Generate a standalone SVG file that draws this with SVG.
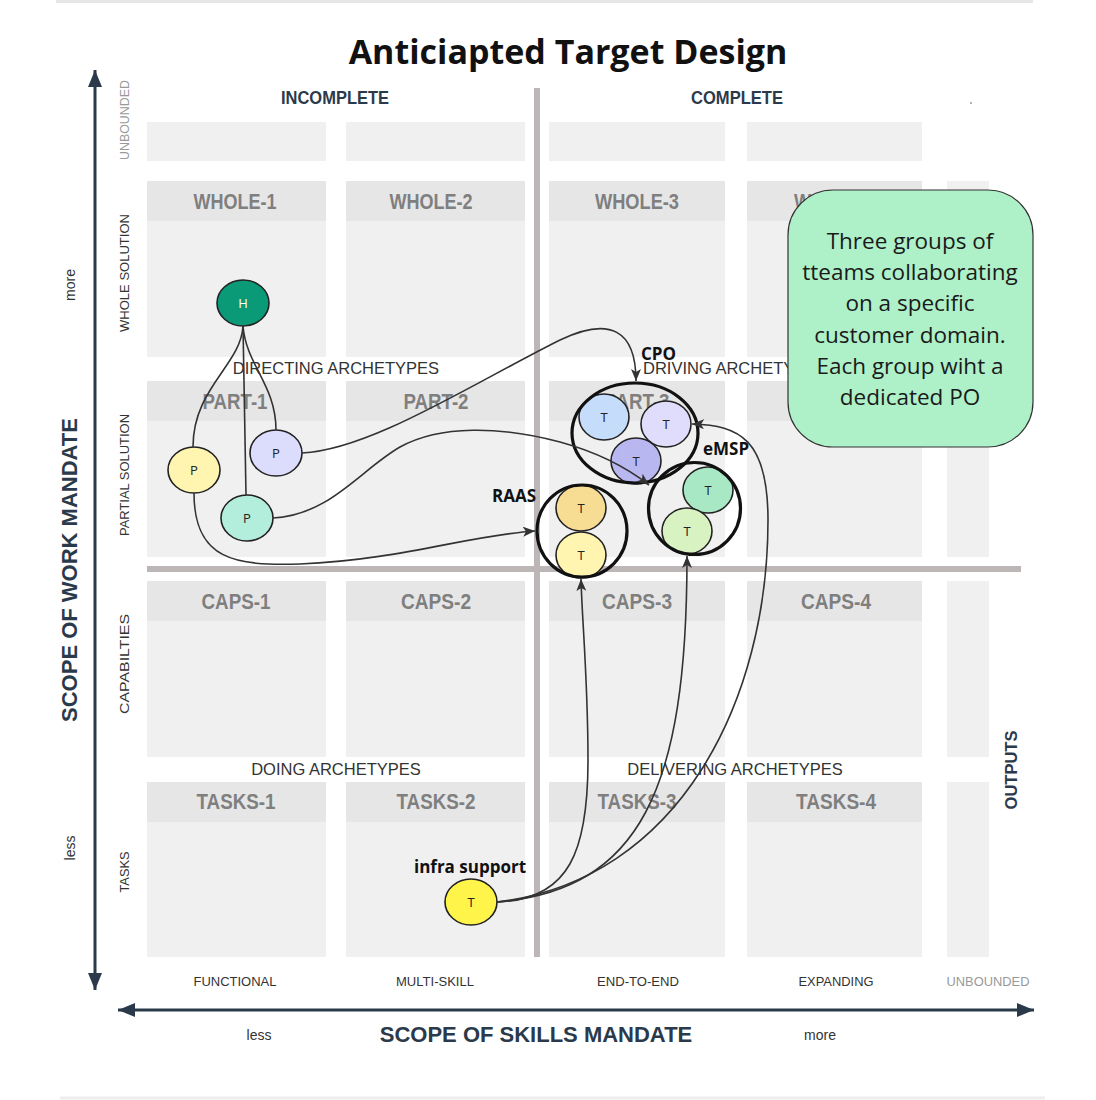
<svg xmlns="http://www.w3.org/2000/svg" width="1096" height="1100" viewBox="0 0 1096 1100">
<style>
.hdr{fill:#e6e6e6}
.bdy{fill:#f0f0f0}
.cl{font-family:"Liberation Sans",Arial,sans-serif;font-weight:700;font-size:22px;fill:#7f7f7f;text-anchor:middle}
.ax{font-family:"Liberation Sans",Arial,sans-serif;font-weight:700;fill:#2b3a4a;text-anchor:middle}
.rl{font-family:"Liberation Sans",Arial,sans-serif;font-size:12.5px;fill:#333;text-anchor:middle}
.arch{font-family:"Liberation Sans",Arial,sans-serif;font-size:16.5px;fill:#333;text-anchor:middle}
.sm{font-family:"Liberation Sans",Arial,sans-serif;font-size:14px;fill:#333;text-anchor:middle}
.conn{fill:none;stroke:#333;stroke-width:1.6}
.nd{stroke:#222;stroke-width:1.6}
.grp{fill:none;stroke:#111;stroke-width:3.2}
.nt{font-family:"Open Sans","Liberation Sans",sans-serif;font-size:13px;fill:#222;text-anchor:middle}
.gl{font-family:"Open Sans","Liberation Sans",sans-serif;font-weight:700;font-size:17px;fill:#111}
.bar{fill:#bdb6b6}
</style>
<defs>
<marker id="arr" markerUnits="userSpaceOnUse" markerWidth="14" markerHeight="12" refX="12" refY="5" orient="auto">
<path d="M0,0 L12,5 L0,10 L3,5 z" fill="#333"/>
</marker>
<marker id="axA" markerUnits="userSpaceOnUse" markerWidth="20" markerHeight="16" refX="17" refY="7" orient="auto-start-reverse">
<path d="M0,0 L17,7 L0,14 z" fill="#2b3a4a"/>
</marker>
</defs>

<rect width="1096" height="1100" fill="#fff"/>
<line x1="56" y1="1.5" x2="1033" y2="1.5" stroke="#e6e6e6" stroke-width="3"/>
<line x1="60" y1="1098" x2="1045" y2="1098" stroke="#eeeeee" stroke-width="3"/>

<g id="grid">
<rect class="bdy" x="147" y="122" width="179" height="39"/>
<rect class="bdy" x="346" y="122" width="179" height="39"/>
<rect class="bdy" x="549" y="122" width="176" height="39"/>
<rect class="bdy" x="747" y="122" width="175" height="39"/>

<rect class="hdr" x="147" y="181" width="179" height="40"/><rect class="bdy" x="147" y="221" width="179" height="136"/>
<rect class="hdr" x="346" y="181" width="179" height="40"/><rect class="bdy" x="346" y="221" width="179" height="136"/>
<rect class="hdr" x="549" y="181" width="176" height="40"/><rect class="bdy" x="549" y="221" width="176" height="136"/>
<rect class="hdr" x="747" y="181" width="175" height="40"/><rect class="bdy" x="747" y="221" width="175" height="136"/>
<rect class="bdy" x="947" y="181" width="42" height="176"/>

<rect class="hdr" x="147" y="381" width="179" height="40"/><rect class="bdy" x="147" y="421" width="179" height="136"/>
<rect class="hdr" x="346" y="381" width="179" height="40"/><rect class="bdy" x="346" y="421" width="179" height="136"/>
<rect class="hdr" x="549" y="381" width="176" height="40"/><rect class="bdy" x="549" y="421" width="176" height="136"/>
<rect class="hdr" x="747" y="381" width="175" height="40"/><rect class="bdy" x="747" y="421" width="175" height="136"/>
<rect class="bdy" x="947" y="381" width="42" height="176"/>

<rect class="hdr" x="147" y="581" width="179" height="40"/><rect class="bdy" x="147" y="621" width="179" height="136"/>
<rect class="hdr" x="346" y="581" width="179" height="40"/><rect class="bdy" x="346" y="621" width="179" height="136"/>
<rect class="hdr" x="549" y="581" width="176" height="40"/><rect class="bdy" x="549" y="621" width="176" height="136"/>
<rect class="hdr" x="747" y="581" width="175" height="40"/><rect class="bdy" x="747" y="621" width="175" height="136"/>
<rect class="bdy" x="947" y="581" width="42" height="176"/>

<rect class="hdr" x="147" y="782" width="179" height="40"/><rect class="bdy" x="147" y="822" width="179" height="135"/>
<rect class="hdr" x="346" y="782" width="179" height="40"/><rect class="bdy" x="346" y="822" width="179" height="135"/>
<rect class="hdr" x="549" y="782" width="176" height="40"/><rect class="bdy" x="549" y="822" width="176" height="135"/>
<rect class="hdr" x="747" y="782" width="175" height="40"/><rect class="bdy" x="747" y="822" width="175" height="135"/>
<rect class="bdy" x="947" y="782" width="42" height="175"/>

<text class="cl" x="235" y="209" textLength="83" lengthAdjust="spacingAndGlyphs">WHOLE-1</text>
<text class="cl" x="431" y="209" textLength="83" lengthAdjust="spacingAndGlyphs">WHOLE-2</text>
<text class="cl" x="637" y="209" textLength="84" lengthAdjust="spacingAndGlyphs">WHOLE-3</text>
<text class="cl" x="836" y="209" textLength="84" lengthAdjust="spacingAndGlyphs">WHOLE-4</text>
<text class="cl" x="235" y="409" textLength="65" lengthAdjust="spacingAndGlyphs">PART-1</text>
<text class="cl" x="436" y="409" textLength="65" lengthAdjust="spacingAndGlyphs">PART-2</text>
<text class="cl" x="637" y="409" textLength="65" lengthAdjust="spacingAndGlyphs">PART-3</text>
<text class="cl" x="836" y="409" textLength="65" lengthAdjust="spacingAndGlyphs">PART-4</text>
<text class="cl" x="236" y="609" textLength="69" lengthAdjust="spacingAndGlyphs">CAPS-1</text>
<text class="cl" x="436" y="609" textLength="70" lengthAdjust="spacingAndGlyphs">CAPS-2</text>
<text class="cl" x="637" y="609" textLength="70" lengthAdjust="spacingAndGlyphs">CAPS-3</text>
<text class="cl" x="836" y="609" textLength="70" lengthAdjust="spacingAndGlyphs">CAPS-4</text>
<text class="cl" x="236" y="809" textLength="79" lengthAdjust="spacingAndGlyphs">TASKS-1</text>
<text class="cl" x="436" y="809" textLength="79" lengthAdjust="spacingAndGlyphs">TASKS-2</text>
<text class="cl" x="637" y="809" textLength="79" lengthAdjust="spacingAndGlyphs">TASKS-3</text>
<text class="cl" x="836" y="809" textLength="80" lengthAdjust="spacingAndGlyphs">TASKS-4</text>

<rect class="bar" x="534" y="88" width="6" height="869"/>
<rect class="bar" x="147" y="566" width="874" height="6"/>
</g>

<g id="labels">
<text x="568" y="64" font-family="'Open Sans','Liberation Sans',sans-serif" font-weight="700" font-size="34" fill="#111" text-anchor="middle">Anticiapted Target Design</text>
<text class="ax" x="335" y="104" font-size="18" textLength="108" lengthAdjust="spacingAndGlyphs">INCOMPLETE</text>
<text class="ax" x="737" y="104" font-size="18" textLength="92" lengthAdjust="spacingAndGlyphs">COMPLETE</text>
<text class="ax" font-size="22" transform="translate(77,570) rotate(-90)">SCOPE OF WORK MANDATE</text>
<text class="sm" transform="translate(75,285) rotate(-90)">more</text>
<text class="sm" transform="translate(75,848) rotate(-90)">less</text>
<text class="rl" style="fill:#999" transform="translate(129,120) rotate(-90)" textLength="80" lengthAdjust="spacingAndGlyphs">UNBOUNDED</text>
<text class="rl" transform="translate(129,273) rotate(-90)" textLength="118" lengthAdjust="spacingAndGlyphs">WHOLE SOLUTION</text>
<text class="rl" transform="translate(129,475) rotate(-90)" textLength="122" lengthAdjust="spacingAndGlyphs">PARTIAL SOLUTION</text>
<text class="rl" transform="translate(129,664) rotate(-90)" textLength="100" lengthAdjust="spacingAndGlyphs">CAPABILTIES</text>
<text class="rl" transform="translate(129,872) rotate(-90)" textLength="41" lengthAdjust="spacingAndGlyphs">TASKS</text>
<text class="ax" font-size="16.5" transform="translate(1017,770) rotate(-90)">OUTPUTS</text>

<text class="rl" x="235" y="986" textLength="83" lengthAdjust="spacingAndGlyphs">FUNCTIONAL</text>
<text class="rl" x="435" y="986" textLength="78" lengthAdjust="spacingAndGlyphs">MULTI-SKILL</text>
<text class="rl" x="638" y="986" textLength="82" lengthAdjust="spacingAndGlyphs">END-TO-END</text>
<text class="rl" x="836" y="986" textLength="75" lengthAdjust="spacingAndGlyphs">EXPANDING</text>
<text class="rl" style="fill:#999" x="988" y="986" textLength="83" lengthAdjust="spacingAndGlyphs">UNBOUNDED</text>
<text class="sm" x="259" y="1040" font-size="15">less</text>
<text class="sm" x="820" y="1040" font-size="15">more</text>
<text class="ax" x="536" y="1042" font-size="22">SCOPE OF SKILLS MANDATE</text>

<line x1="95" y1="990" x2="95" y2="70" stroke="#2b3a4a" stroke-width="3" marker-end="url(#axA)" marker-start="url(#axA)"/>
<line x1="118" y1="1010" x2="1034" y2="1010" stroke="#2b3a4a" stroke-width="3" marker-end="url(#axA)" marker-start="url(#axA)"/>

<text class="arch" x="336" y="374">DIRECTING ARCHETYPES</text>
<text class="arch" x="643" y="374" style="text-anchor:start">DRIVING ARCHETYPES</text>
<text class="arch" x="336" y="775">DOING ARCHETYPES</text>
<text class="arch" x="735" y="775">DELIVERING ARCHETYPES</text>
<circle cx="971" cy="103" r="0.8" fill="#555"/>
</g>

<g id="node-H"><ellipse class="nd" cx="243" cy="303" rx="26" ry="23" fill="#0a9a78"/><text class="nt" x="243" y="308" style="fill:#fff">H</text></g>
<g id="node-P1"><ellipse class="nd" cx="194" cy="470" rx="26" ry="23" fill="#fff5b0"/><text class="nt" x="194" y="475">P</text></g>
<g id="node-P2"><ellipse class="nd" cx="276" cy="453" rx="26" ry="23" fill="#dcdcfc"/><text class="nt" x="276" y="458">P</text></g>
<g id="node-P3"><ellipse class="nd" cx="247" cy="518" rx="26" ry="23" fill="#b3eedc"/><text class="nt" x="247" y="523">P</text></g>

<g id="group-CPO">
<ellipse class="nd" cx="604" cy="417" rx="25" ry="23" fill="#c6dcfb"/><text class="nt" x="604" y="422">T</text>
<ellipse class="nd" cx="666" cy="424" rx="25" ry="23" fill="#e0dcfb"/><text class="nt" x="666" y="429">T</text>
<ellipse class="nd" cx="636" cy="461" rx="25" ry="23" fill="#b9b7f0"/><text class="nt" x="636" y="466">T</text>
<ellipse class="grp" cx="635" cy="433" rx="63" ry="50"/>
<text class="gl" x="641" y="360">CPO</text>
</g>
<g id="group-eMSP">
<ellipse class="nd" cx="708" cy="490" rx="25" ry="23" fill="#a8e8c4"/><text class="nt" x="708" y="495">T</text>
<ellipse class="nd" cx="687" cy="531" rx="25" ry="23" fill="#d9f2c2"/><text class="nt" x="687" y="536">T</text>
<ellipse class="grp" cx="694.5" cy="508.5" rx="46" ry="46"/>
<text class="gl" x="703" y="455" font-size="16.5">eMSP</text>
</g>
<g id="group-RAAS">
<ellipse class="nd" cx="581" cy="508" rx="25" ry="23" fill="#f7dd93"/><text class="nt" x="581" y="513">T</text>
<ellipse class="nd" cx="581" cy="555" rx="25" ry="23" fill="#fff5b0"/><text class="nt" x="581" y="560">T</text>
<ellipse class="grp" cx="582" cy="531" rx="45" ry="46"/>
<text class="gl" x="492" y="502">RAAS</text>
</g>
<g id="node-infra">
<ellipse class="nd" cx="471" cy="902" rx="26" ry="23" fill="#fff44a"/><text class="nt" x="471" y="907">T</text>
<text class="gl" x="470" y="873" text-anchor="middle">infra support</text>
</g>

<g id="connectors">
<path class="conn" d="M243,326 C241,365 193,388 193,447"/>
<path class="conn" d="M243,326 L246,495"/>
<path class="conn" d="M243,326 C246,365 276,385 276,430"/>
<path class="conn" d="M302,453 C370,450 470,385 560,340 C610,316 636,330 636,381" marker-end="url(#arr)"/>
<path class="conn" d="M273,518 C330,515 360,470 400,447 C440,425 500,426 560,442 C600,453 630,470 649,485" marker-end="url(#arr)"/>
<path class="conn" d="M194,493 C194,560 235,566 300,564 C400,560 470,535 535,531" marker-end="url(#arr)"/>
<path class="conn" d="M497,902 C570,900 588,850 588,760 C588,680 582,620 581,579" marker-end="url(#arr)"/>
<path class="conn" d="M497,902 C640,890 687,790 687,556" marker-end="url(#arr)"/>
<path class="conn" d="M497,902 C680,880 768,700 768,520 C768,440 740,425 692,424" marker-end="url(#arr)"/>
</g>

<g id="note">
<rect x="788" y="190" width="245" height="257" rx="45" ry="45" fill="#aef0c8" stroke="#333" stroke-width="1.2"/>
<g font-family="'Open Sans','Liberation Sans',sans-serif" font-size="22.5" fill="#1a1a1a" text-anchor="middle">
<text x="910" y="249">Three groups of</text>
<text x="910" y="280">tteams collaborating</text>
<text x="910" y="311">on a specific</text>
<text x="910" y="343">customer domain.</text>
<text x="910" y="374">Each group wiht a</text>
<text x="910" y="405">dedicated PO</text>
</g>
</g>
</svg>
